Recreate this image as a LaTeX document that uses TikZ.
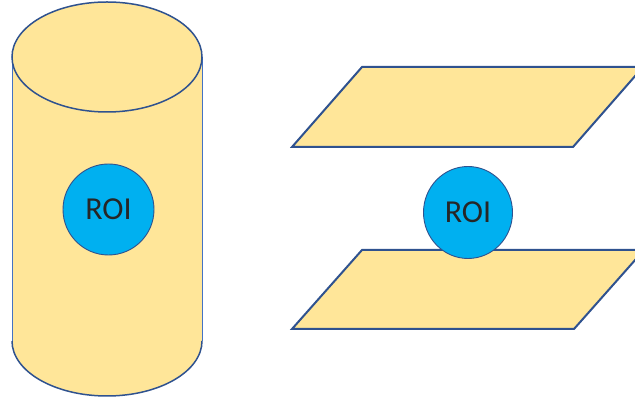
\documentclass[tikz,border=0pt]{standalone}
\usepackage{fontspec}
\setmainfont{Carlito}
\usetikzlibrary{shapes.geometric}
\definecolor{goldl}{HTML}{FFE699}
\definecolor{edgeb}{HTML}{2F528F}
\definecolor{sideb}{HTML}{4472C4}
\definecolor{roib}{HTML}{00B0F0}
\tikzset{
  plane/.style={fill=goldl, draw=edgeb, line width=2pt, line join=miter},
  roi/.style={ellipse, fill=roib, draw=edgeb, line width=0.9pt, inner sep=0pt,
    font=\fontsize{32}{32}\selectfont, text=black!85}
}
\begin{document}
\begin{tikzpicture}[x=1pt,y=1pt]
\useasboundingbox (0,0) rectangle (635,403);
\begin{scope}
\clip (0,0) rectangle (635,403);
% cylinder body
\fill[goldl] (12,346) -- (12,62) arc[start angle=180, end angle=360, x radius=95, y radius=55] -- (202,346) -- cycle;
\draw[sideb, line width=1pt] (12,346) -- (12,62);
\draw[sideb, line width=1pt] (202,346) -- (202,62);
\draw[edgeb, line width=1.5pt] (12,62) arc[start angle=180, end angle=360, x radius=95, y radius=55];
\draw[edgeb, line width=1.5pt, fill=goldl] (107,346) ellipse[x radius=95, y radius=55];
% planes
\draw[plane] (292,256) -- (573,256) -- (643,336) -- (362,336) -- cycle;
\draw[plane] (292,74) -- (574,74) -- (644,153) -- (362,153) -- cycle;
\end{scope}
\node[roi, minimum width=91pt, minimum height=91pt] (roiA) at (108.5,193.5) {ROI};
\node[roi, minimum width=89pt, minimum height=92pt] (roiB) at (468,190.5) {ROI};
\end{tikzpicture}
\end{document}
